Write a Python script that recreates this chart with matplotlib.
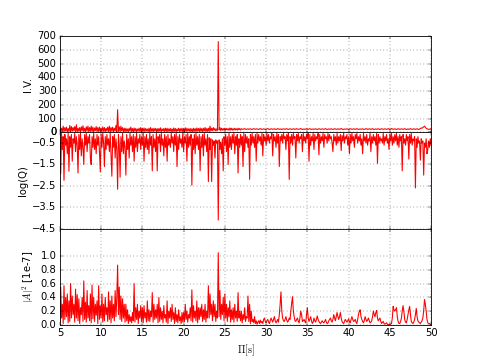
import matplotlib
matplotlib.use('Agg')
import matplotlib.pyplot as plt
import numpy as np

plt.style.use('classic')
plt.rcParams['font.size'] = 12

# I.V., one row per second, 5 .. 50 s every 0.1 s
iv = [40, 5, 30, 8, 45, 3, 35, 10, 38, 4,
      28, 6, 50, 3, 42, 8, 35, 12, 42, 5,
      55, 4, 30, 8, 35, 3, 40, 12, 48, 6,
      30, 5, 40, 10, 45, 4, 35, 8, 45, 5,
      38, 3, 32, 12, 42, 6, 35, 4, 38, 8,
      30, 5, 40, 8, 35, 3, 30, 10, 38, 6,
      45, 4, 35, 8, 38, 5, 30, 10, 50, 6,
      165, 8, 40, 5, 45, 10, 35, 6, 30, 4,
      30, 8, 25, 5, 30, 10, 38, 6, 28, 4,
      32, 8, 28, 5, 25, 10, 30, 6, 35, 4,
      30, 8, 32, 5, 28, 10, 25, 6, 30, 4,
      35, 8, 27, 5, 30, 10, 28, 6, 27, 4,
      28, 9, 33, 5, 25, 10, 28, 6, 30, 7,
      30, 5, 26, 9, 28, 6, 25, 4, 32, 8,
      28, 5, 25, 10, 30, 6, 27, 8, 30, 5,
      28, 6, 33, 5, 30, 10, 26, 8, 28, 6,
      26, 4, 30, 8, 27, 5, 32, 10, 28, 6,
      32, 8, 28, 5, 30, 10, 35, 6, 28, 8,
      30, 6, 45, 10, 30, 12, 35, 15, 28, 10,
      25, 15, 660, 18, 35, 14, 30, 16, 28, 15,
      30, 16, 28, 18, 27, 15, 32, 17, 30, 16,
      27, 17, 30, 18, 26, 16, 30, 19, 28, 17,
      26, 24, 22, 25, 27, 23, 21, 24, 26, 22,
      24, 26, 23, 21, 24, 27, 25, 22, 24, 26,
      23, 21, 25, 27, 24, 22, 23, 26, 24, 21,
      22, 25, 27, 24, 21, 23, 26, 25, 22, 24,
      26, 23, 21, 24, 27, 25, 22, 23, 25, 21,
      23, 26, 24, 22, 25, 27, 23, 21, 24, 26,
      24, 21, 23, 26, 25, 22, 24, 27, 24, 22,
      23, 25, 28, 24, 21, 23, 25, 22, 24, 26,
      25, 22, 24, 27, 24, 21, 23, 25, 22, 24,
      26, 23, 21, 24, 26, 25, 22, 23, 26, 24,
      22, 24, 27, 24, 21, 23, 25, 22, 24, 26,
      23, 21, 24, 26, 25, 22, 23, 26, 24, 22,
      25, 28, 24, 21, 23, 25, 22, 24, 26, 23,
      21, 24, 26, 25, 22, 23, 26, 24, 22, 24,
      27, 24, 21, 23, 25, 22, 24, 26, 23, 21,
      24, 27, 25, 22, 23, 26, 24, 22, 24, 27,
      24, 21, 23, 25, 22, 24, 26, 23, 21, 24,
      26, 25, 22, 23, 26, 24, 22, 24, 27, 24,
      21, 23, 28, 25, 22, 24, 26, 23, 21, 24,
      26, 25, 22, 23, 26, 24, 22, 24, 27, 24,
      21, 23, 25, 22, 24, 27, 24, 22, 23, 26,
      24, 22, 24, 26, 23, 21, 24, 28, 32, 30,
      35, 40, 45, 38, 30, 26, 24, 22, 23, 25,
      24]

# log(Q)
logq = [-.1, -1.93, -.05, -.8, -.2, -2.24, -.1, -.6, -.3, -1.0,
        -.05, -1.82, -.2, -.7, -.1, -1.35, -.3, -.5, -.05, -.9,
        -.2, -.6, -1.9, -.1, -.8, -.05, -1.1, -.3, -.7, -1.5,
        -.1, -.6, -.05, -.9, -.2, -.5, -.1, -1.2, -1.5, -.2,
        -.7, -.05, -.8, -.3, -1.0, -.1, -.6, -.2, -.9, -1.85,
        -.1, -.7, -.05, -.5, -1.6, -.2, -.8, -.1, -.6, -.3,
        -.9, -.05, -1.1, -2.05, -.2, -.7, -.1, -1.2, -.3, -.8,
        -2.66, -.1, -.6, -2.1, -.2, -.9, -.05, -1.0, -.4, -.7,
        -2.0, -.1, -.8, -.3, -1.2, -.05, -.6, -.2, -.9, -.1,
        -1.35, -.2, -.7, -.05, -.9, -.3, -.5, -.1, -.8, -.2,
        -.6, -.05, -1.35, -.2, -.7, -.1, -.8, -.3, -1.0, -.05,
        -.6, -.2, -1.8, -.1, -.7, -.3, -.9, -.05, -1.8, -.2,
        -.5, -.1, -.9, -.05, -.6, -.3, -1.1, -.1, -.7, -.2,
        -1.35, -.1, -.6, -.3, -.7, -.05, -.5, -.2, -.9, -.1,
        -.6, -.05, -1.6, -.2, -.8, -.1, -.5, -.3, -.7, -.05,
        -.9, -.2, -.5, -.1, -1.35, -.05, -.7, -.2, -.6, -.1,
        -2.47, -.3, -.8, -.1, -1.0, -.05, -.6, -.2, -.8, -.1,
        -1.8, -.2, -.7, -.1, -1.1, -.05, -.6, -.3, -.9, -.1,
        -2.3, -.25, -.8, -.3, -2.3, -.35, -.6, -.4, -1.2, -.35,
        -.5, -.4, -4.1, -.35, -.8, -.45, -1.0, -.3, -1.8, -.2,
        -.6, -.1, -.9, -.2, -1.5, -.05, -.7, -.2, -.8, -.1,
        -.5, -.05, -1.0, -.2, -.6, -.1, -1.9, -.3, -.7, -.1,
        -.6, -.2, -1.6, -.05, -.9, -.1, -.5, -.2, -.7, -.3,
        -2.2, -.1, -.6, -.05, -.5, -.2, -.7, -.1, -1.35, -.05,
        -.5, -.1, -.4, -.2, -.6, -.05, -1.1, -.1, -.4, -.2,
        -.6, -.05, -.4, -.1, -.5, -.2, -.3, -.05, -1.1, -.1,
        -.4, -.2, -.7, -.05, -.5, -.1, -1.6, -.2, -.4, -.1,
        -.5, -.05, -.3, -.2, -.8, -.1, -.4, -.05, -2.2, -.2,
        -.5, -.1, -.6, -.05, -.3, -.2, -1.2, -.1, -.4, -.05,
        -.5, -.2, -.3, -.1, -.9, -.05, -.4, -.2, -.5, -.1,
        -.3, -.05, -1.35, -.1, -.6, -.2, -.4, -.05, -.8, -.1,
        -.4, -.2, -.3, -.05, -1.05, -.1, -.5, -.2, -.4, -.05,
        -.7, -.1, -.3, -.2, -.5, -.05, -.4, -.1, -.3, -.2,
        -.5, -.9, -.1, -.4, -.2, -.6, -.05, -.5, -.2, -.4,
        -.1, -.85, -.15, -.4, -.05, -.5, -.2, -.3, -.1, -.6,
        -.2, -1.0, -.1, -.5, -.05, -.4, -.2, -.7, -.1, -.3,
        -.05, -.5, -.2, -.4, -.1, -.6, -.3, -1.0, -.05, -.4,
        -.2, -.5, -.1, -.6, -.3, -.4, -.05, -.9, -.2, -.5,
        -.1, -.4, -.2, -.6, -.05, -1.45, -.1, -.5, -.2, -.4,
        -.3, -.5, -.05, -.6, -.2, -.4, -.1, -.5, -.3, -.8,
        -.1, -.4, -.05, -.6, -.2, -.5, -.1, -.4, -.05, -.6,
        -.2, -.7, -.1, -.4, -.2, -1.8, -.1, -.5, -.3, -.6,
        -.1, -.4, -.2, -1.25, -.1, -.5, -.05, -.6, -.3, -.4,
        -.2, -2.6, -.3, -.7, -.2, -.5, -.4, -1.3, -.3, -.5,
        -.4, -2.0, -.5, -.7, -.3, -1.0, -.8, -.4, -.7, -.3,
        -.6]

# |A|^2 in units of 1e-7
amp2 = [.05, .55, .1, .3, .02, .57, .08, .4, .12, .45,
        .03, .35, .05, .6, .1, .42, .15, .3, .04, .52,
        .1, .44, .06, .38, .02, .25, .15, .4, .05, .64,
        .08, .33, .04, .5, .1, .28, .06, .45, .03, .58,
        .09, .4, .05, .3, .14, .35, .02, .57, .08, .28,
        .1, .45, .04, .3, .06, .4, .15, .25, .05, .48,
        .08, .35, .03, .42, .1, .3, .06, .5, .12, .4,
        .87, .15, .55, .08, .42, .05, .38, .1, .3, .04,
        .3, .06, .22, .02, .15, .05, .12, .03, .18, .06,
        .6, .04, .25, .08, .3, .02, .2, .1, .28, .05,
        .25, .03, .28, .1, .18, .04, .35, .06, .22, .05,
        .2, .12, .47, .04, .3, .08, .22, .1, .3, .03,
        .4, .05, .25, .08, .2, .03, .28, .1, .15, .04,
        .35, .02, .2, .1, .25, .05, .3, .08, .18, .02,
        .25, .05, .15, .03, .22, .06, .12, .02, .18, .04,
        .18, .05, .3, .08, .2, .04, .15, .1, .25, .06,
        .51, .04, .28, .1, .2, .06, .35, .03, .25, .08,
        .25, .12, .3, .05, .22, .08, .3, .04, .2, .1,
        .57, .1, .45, .15, .3, .06, .35, .12, .3, .05,
        .2, .1, 1.05, .12, .5, .08, .3, .15, .4, .06,
        .45, .1, .3, .05, .25, .12, .35, .04, .22, .08,
        .25, .04, .3, .1, .2, .05, .47, .1, .2, .06,
        .2, .03, .15, .08, .25, .05, .12, .1, .42, .05,
        .3, .02, .2, .05, .08, .03, .12, .02, .06, .01,
        .04, .06, .02, .07, .03, .05, .02, .08, .1, .05,
        .03, .06, .08, .04, .02, .06, .1, .07, .04, .08,
        .12, .06, .03, .05, .08, .04, .15, .3, .48, .2,
        .1, .06, .05, .08, .12, .07, .04, .06, .1, .08,
        .2, .32, .41, .2, .12, .06, .05, .08, .1, .05,
        .03, .1, .2, .15, .05, .06, .08, .05, .03, .15,
        .25, .1, .05, .08, .12, .06, .02, .04, .1, .06,
        .04, .08, .13, .08, .05, .03, .02, .04, .06, .04,
        .03, .05, .08, .04, .02, .03, .06, .08, .1, .06,
        .04, .08, .15, .1, .06, .12, .18, .12, .08, .12,
        .18, .1, .05, .03, .02, .05, .08, .06, .04, .06,
        .09, .05, .03, .08, .12, .08, .05, .06, .08, .04,
        .02, .08, .15, .2, .22, .12, .08, .05, .03, .06,
        .12, .08, .05, .07, .1, .06, .03, .04, .06, .12,
        .2, .15, .12, .18, .21, .1, .06, .08, .1, .05,
        .02, .04, .05, .02, .01, .02, .03, .01, .0, .01,
        .01, .01, .02, .1, .27, .22, .2, .22, .25, .12,
        .05, .02, .02, .05, .1, .2, .28, .2, .08, .04,
        .03, .08, .15, .22, .27, .15, .05, .03, .02, .04,
        .08, .15, .24, .12, .06, .04, .03, .02, .04, .06,
        .1, .2, .37, .3, .2, .08, .03, .02, .02, .01,
        .01]

period = np.linspace(5, 50, len(amp2))

logq_ticks = [0, -0.5, -1.5, -2.5, -3.5, -4.5]
logq_labels = ['0', '\u22120.5', '\u22121.5', '\u22122.5', '\u22123.5', '\u22124.5']

fig, (ax1, ax2, ax3) = plt.subplots(3, 1, sharex=True, figsize=(479 / 60, 361 / 60))
fig.subplots_adjust(left=0.125, right=0.9, bottom=0.1, top=0.9, hspace=0)

ax1.plot(period, iv, 'r-', lw=1.3)
ax1.set_ylim(0, 700)
ax1.set_yticks(range(0, 701, 100))
ax1.set_ylabel('I.V.')
ax1.grid(True)

ax2.plot(period, logq, 'r-', lw=1.3)
ax2.set_ylim(-4.5, 0)
ax2.set_yticks(logq_ticks)
ax2.set_yticklabels(logq_labels)
ax2.set_ylabel('log(Q)')
ax2.grid(True)

ax3.plot(period, amp2, 'r-', lw=1.3)
ax3.set_ylim(0, 1.4)
ax3.set_yticks([0.0, 0.2, 0.4, 0.6, 0.8, 1.0])
ax3.set_ylabel(r'$|A|^2$ [1e-7]')
ax3.set_xlabel(r'$\Pi[\mathrm{s}]$')
ax3.set_xlim(5, 50)
ax3.set_xticks(range(5, 51, 5))
ax3.grid(True)

fig.savefig('out.png', dpi=60)
